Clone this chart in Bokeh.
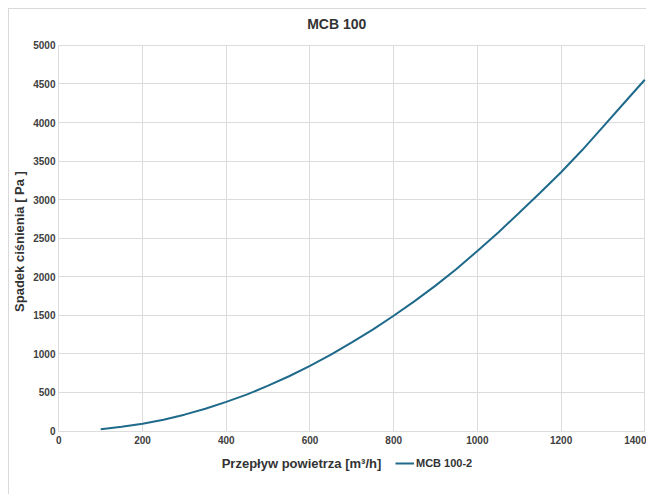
from bokeh.plotting import figure
from bokeh.models import Range1d, FixedTicker, Legend, LegendItem, Label
from bokeh.embed import file_html
from bokeh.resources import INLINE

# Data
flow = [100, 150, 200, 250, 300, 350, 400, 450, 500, 550, 600, 650, 700, 750,
        800, 850, 900, 950, 1000, 1050, 1100, 1150, 1200, 1250, 1300, 1350, 1400]
pressure = [22, 55, 93, 145, 212, 288, 378, 475, 588, 710, 845, 990, 1150, 1315,
            1495, 1685, 1885, 2100, 2335, 2575, 2830, 3090, 3355, 3640, 3945, 4250, 4555]
series_name = "MCB 100-2"
x_title = "Przepływ powietrza [m³/h]"
y_title = "Spadek ciśnienia [ Pa ]"
chart_title = "MCB 100"
x_ticks = [0, 200, 400, 600, 800, 1000, 1200, 1400]
y_ticks = [0, 500, 1000, 1500, 2000, 2500, 3000, 3500, 4000, 4500, 5000]

FONT = "Liberation Sans"
TXT = "#333333"
GRID = "#dcdcdc"

X0, X1 = 0, 1400
Y0, Y1 = 0, 5000
# visible range is padded so that titles, legend and edge tick labels fit inside the frame
XR = (-8.1, 1406.5)
YR = (-551, 5466)

p = figure(width=638, height=486, x_range=Range1d(*XR), y_range=Range1d(*YR),
           output_backend="svg", toolbar_location=None, title=None,
           min_border_left=46, min_border_right=0, min_border_top=0, min_border_bottom=22)
p.outline_line_color = None
p.background_fill_color = "white"
p.border_fill_color = "white"

for ax in (p.xaxis[0], p.yaxis[0]):
    ax.axis_line_color = None
    ax.major_tick_line_color = None
    ax.minor_tick_line_color = None
    ax.major_tick_out = 0
    ax.major_tick_in = 0
    ax.major_label_text_font = FONT
    ax.major_label_text_font_style = "bold"
    ax.major_label_text_font_size = "10px"
    ax.major_label_text_color = "#404040"

p.xaxis[0].ticker = FixedTicker(ticks=x_ticks)
p.yaxis[0].ticker = FixedTicker(ticks=y_ticks)
p.xaxis[0].fixed_location = Y0
p.xaxis[0].major_label_standoff = 5
p.yaxis[0].major_label_standoff = 0
p.yaxis[0].bounds = (Y0, Y1)

p.yaxis[0].axis_label = y_title
p.yaxis[0].axis_label_text_font = FONT
p.yaxis[0].axis_label_text_font_style = "bold"
p.yaxis[0].axis_label_text_font_size = "13px"
p.yaxis[0].axis_label_text_color = TXT
p.yaxis[0].axis_label_standoff = 3

p.xgrid.grid_line_color = GRID
p.ygrid.grid_line_color = GRID
p.xgrid.grid_line_width = 1
p.ygrid.grid_line_width = 1
p.xgrid[0].cross_bounds = (Y0, Y1)
p.ygrid[0].cross_bounds = (X0, X1)

r = p.line(flow, pressure, line_color="#1f6a8b", line_width=2)

p.add_layout(Label(x=664, y=5281, text=chart_title, text_align="center", text_baseline="middle",
                   text_font=FONT, text_font_style="bold", text_font_size="14px",
                   text_color=TXT))

p.add_layout(Label(x=389, y=-421, text=x_title, text_align="left", text_baseline="middle",
                   text_font=FONT, text_font_style="bold", text_font_size="13px",
                   text_color=TXT))

legend = Legend(items=[LegendItem(label=series_name, renderers=[r])],
                location=(340, 4), orientation="horizontal",
                padding=0, margin=0, spacing=0, border_line_color=None,
                background_fill_alpha=0, glyph_width=19, glyph_height=12,
                label_height=12, label_standoff=2,
                label_text_font=FONT, label_text_font_style="bold",
                label_text_font_size="11px", label_text_color=TXT)
p.add_layout(legend, "center")

p.styles = {"margin-left": "8px", "margin-top": "8px",
            "border-left": "1px solid #d9d9d9", "border-top": "1px solid #d9d9d9"}

open("out.html", "w").write(file_html(p, INLINE))
